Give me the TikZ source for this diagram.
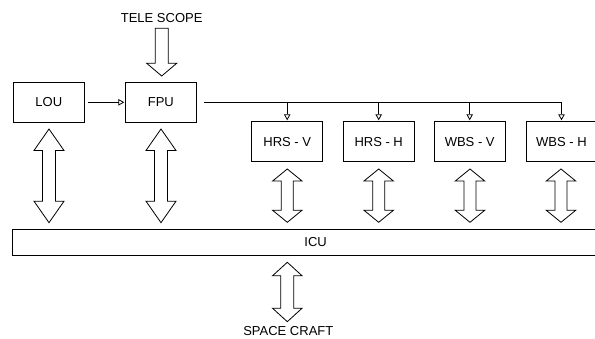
\documentclass[tikz,border=0pt]{standalone}
\usepackage{fontspec}
\setmainfont{Liberation Sans}
\usetikzlibrary{arrows.meta}
\newcommand\dblarr[6]{%
  \draw[blk] ({#1-#4},{#2+#6}) -- ({#1-#5},{#2+#6}) -- (#1,#2) -- ({#1+#5},{#2+#6})
    -- ({#1+#4},{#2+#6}) -- ({#1+#4},{#3-#6}) -- ({#1+#5},{#3-#6}) -- (#1,#3)
    -- ({#1-#5},{#3-#6}) -- ({#1-#4},{#3-#6}) -- cycle;}
\begin{document}
\begin{tikzpicture}[x=1pt,y=-1pt,line width=0.8pt,
  font=\fontsize{13}{15}\selectfont,
  box/.style={draw,minimum width=71pt,minimum height=40pt,inner sep=0pt},
  blk/.style={draw,fill=white,line width=0.8pt,line join=miter},
  sig/.style={-{Triangle[open,length=6pt,width=6.5pt]}}]
\useasboundingbox (0,0) rectangle (595,339);
\begin{scope}
\clip (0,0) rectangle (595,339);
% labels
\node (tele) at (161.7,17.8) {TELE SCOPE};
\node (sc) at (288.3,331.5) {SPACE CRAFT};
% boxes
\node[box] (lou) at (48.8,102.3) {LOU};
\node[box,minimum width=70.3pt] (fpu) at (160.85,102.3) {FPU};
\node[box] (hrsv) at (287.2,141.7) {HRS - V};
\node[box] (hrsh) at (378.7,141.7) {HRS - H};
\node[box] (wbsv) at (469.7,141.7) {WBS - V};
\node[box] (wbsh) at (561.5,141.7) {WBS - H};
\node[draw,minimum width=605.8pt,minimum height=26.5pt,inner sep=0pt] (icu) at (315.6,242.25) {ICU};
% signal connectors
\draw[sig] ([xshift=3.4pt]lou.east) -- ([xshift=-1pt]fpu.west);
\draw[sig] ([xshift=7.3pt]fpu.east) -| ([yshift=1pt]wbsh.north);
\draw[sig] (fpu.east -| hrsv.north) -- ([yshift=1pt]hrsv.north);
\draw[sig] (fpu.east -| hrsh.north) -- ([yshift=1pt]hrsh.north);
\draw[sig] (fpu.east -| wbsv.north) -- ([yshift=1pt]wbsv.north);
% telescope input arrow
\draw[blk] (155.2,28.3) -- (168.2,28.3) -- (168.2,63.3) -- (176.7,63.3) -- (161.7,76)
  -- (146.7,63.3) -- (155.2,63.3) -- cycle;
% big double arrows
\dblarr{49}{129}{222.7}{6.5}{15}{21.5}
\dblarr{161}{129}{222.7}{6.5}{15}{21.5}
% small double arrows
\dblarr{287.3}{169}{222.3}{6}{14.7}{12}
\dblarr{378.7}{169}{222.3}{6}{14.7}{12}
\dblarr{470}{169}{222.3}{6}{14.7}{12}
\dblarr{561}{169}{222.3}{6}{14.7}{12}
% spacecraft arrow
\dblarr{287.3}{262.3}{321.7}{6.5}{14.8}{13.5}
\end{scope}
\end{tikzpicture}
\end{document}
